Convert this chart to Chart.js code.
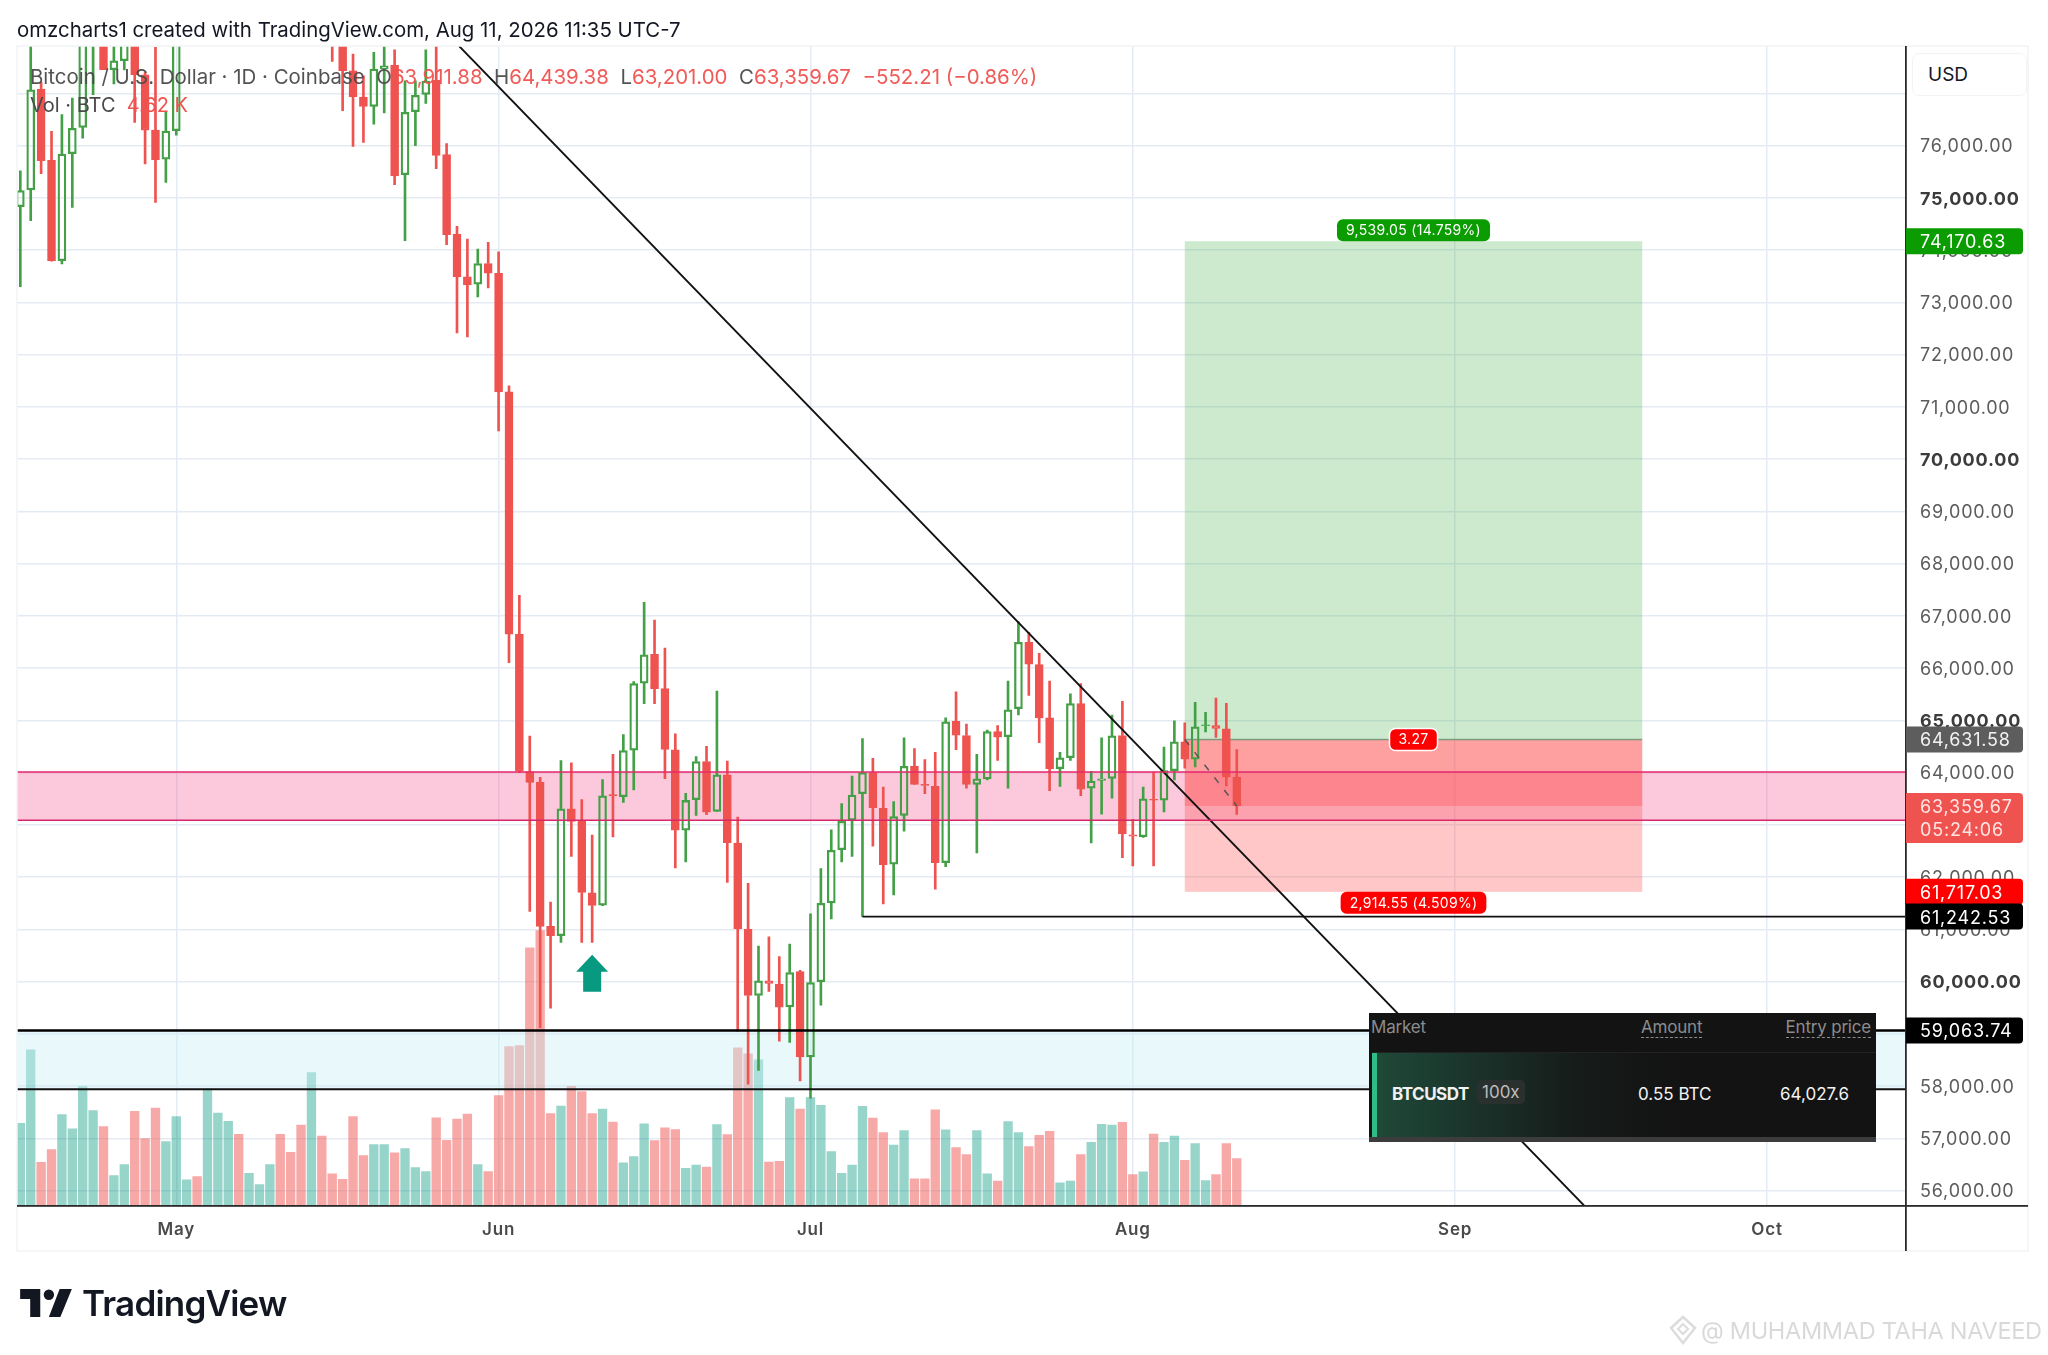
<!DOCTYPE html>
<html><head><meta charset="utf-8">
<script src="https://cdn.jsdelivr.net/npm/chart.js@4"></script>
<style>
html,body{margin:0;padding:0;background:#fff;width:2048px;height:1355px;overflow:hidden;font-family:Inter,"Noto Sans",sans-serif}
#c{position:absolute;left:0;top:0}
.t{position:absolute;white-space:nowrap}
.r{color:#ef5350}
#card{position:absolute;left:1369px;top:1013px;width:507px;height:129px;background:#131313;color:#fff}
#card .row{position:absolute;left:3px;right:0;top:39px;height:84px;border-top:1px solid #222;background:linear-gradient(90deg,#1f4a3a 0,#161c1a 40%,#131313 60%)}
#card .bar{position:absolute;left:3px;top:40px;width:5px;height:84px;background:#2ebd85}
#card .foot{position:absolute;left:0;right:0;bottom:0;height:5px;background:#3c3c3c}
#card .h{position:absolute;top:4px;font-size:17px;font-weight:400;color:#8c8c8c;letter-spacing:-.2px}
#card .u{border-bottom:1.5px dashed #8c8c8c;line-height:20px}
#card .v{position:absolute;top:71px;font-size:17px;color:#f2f2f2}
#card .chip{position:absolute;left:108px;top:67px;padding:2px 5px;font-size:17px;color:#bdbdbd;background:#2a302e;border-radius:5px}
</style></head><body>
<canvas id="c" width="2048" height="1355"></canvas>

<div class="t" style="left:17px;top:17px;font-size:20.4px;color:#131722">omzcharts1 created with TradingView.com, Aug 11, 2026 11:35 UTC-7</div>
<div class="t" style="left:30px;top:64px;font-size:20.45px;color:#4a4a4a;opacity:.95">Bitcoin / U.S. Dollar · 1D · Coinbase&nbsp; O<span class="r">63,911.88</span>&nbsp; H<span class="r">64,439.38</span>&nbsp; L<span class="r">63,201.00</span>&nbsp; C<span class="r">63,359.67</span>&nbsp; <span class="r">−552.21 (−0.86%)</span></div>
<div class="t" style="left:30px;top:93px;font-size:20px;color:#4a4a4a">Vol · BTC&nbsp; <span class="r">4.62 K</span></div>

<div class="t" style="left:1912px;top:53px;width:115px;height:43px;box-sizing:border-box;border:1.5px solid #f1f3f6;border-radius:7px;background:#fff;font-size:19px;line-height:42px;padding-left:15px;color:#131722">USD</div>

<div id="card">
 <div class="h" style="left:2px">Market</div>
 <div class="h u" style="left:272px">Amount</div>
 <div class="h u" style="right:5px">Entry price</div>
 <div class="row"></div><div class="bar"></div>
 <div class="v" style="left:23px;font-weight:700;letter-spacing:-.5px">BTCUSDT</div>
 <div class="chip">100x</div>
 <div class="v" style="left:269px">0.55 BTC</div>
 <div class="v" style="left:411px">64,027.6</div>
 <div class="foot"></div>
</div>

<svg class="t" style="left:20px;top:1289px" width="52" height="28" viewBox="0 0 36 19.5"><path fill="#131722" d="M14 19.5H7V7H0V0h14zM28 19.5h-8L27.5 0h8.5z"/><circle cx="20" cy="4" r="3.6" fill="#131722"/></svg>
<div class="t" style="left:82px;top:1282px;font-size:35px;font-weight:600;letter-spacing:-.8px;color:#131722">TradingView</div>

<svg class="t" style="left:1668px;top:1315px" width="30" height="30" viewBox="0 0 30 30"><path d="M15 2l12 11-12 15L3 13z" fill="none" stroke="#dcdcdc" stroke-width="2.5"/><path d="M15 9l5 5-5 5-5-5z" fill="none" stroke="#dcdcdc" stroke-width="2"/></svg>
<div class="t" style="left:1701px;top:1316px;font-size:23.5px;color:#d9d9d9;letter-spacing:-.3px">@ MUHAMMAD TAHA NAVEED</div>

<script>
// Candles: Apr 16 to Aug 11, one value per day
const opens = [74831,75150,77083,75718,73798,75846,76350,78300,78700,77453,77625,78100,77357,76298,75743,
76286,78100,78600,78300,80000,80700,81200,80400,80800,80900,81500,80700,80200,79300,81200,79800,78400,77434,76930,76751,77466,77542,75444,76649,76981,77256,75827,74308,73487,73346,73744,
73558,71288,66648,64019,63819,61055,60878,63306,63066,61696,61463,63579,63539,64428,65710,66263,65606,64436,62897,63482,64212,63258,63955,62649,61006,59732,60013,59949,59516,60189,
58555,59997,61503,62524,63089,63594,64001,63315,62245,63179,64121,63775,63737,62275,64980,64709,63775,63880,64784,64686,65221,66495,66065,65048,64076,64287,65319,63699,63850,63888,64709,
62810,62772,63488,63473,64038,64588,64257,64897,64897,64837,63911.88];
const highs = [75520,78000,77210,76273,76592,76911,78600,79000,79000,77912,78400,78300,77400,77880,76636,
78500,78900,79000,80200,81000,81500,81400,81000,81100,81700,81800,81000,80400,81500,81300,80000,78500,77753,77338,77785,78000,77836,77242,77242,77833,78100,76038,74455,74212,74019,74148,
73968,71400,67393,64700,63907,61519,64228,64188,63482,62801,63867,64348,64725,65742,67257,66920,66383,64741,63603,64308,64500,65558,64220,63146,61880,60678,60854,60478,60718,60213,
61295,62160,62906,63405,63933,64649,64272,63722,63443,64664,64460,64249,64385,65048,65546,64928,64347,64815,64897,65749,66887,66683,66284,65749,64385,65508,65704,64023,64664,65101,65365,
63104,63722,64008,64490,64988,64950,65342,65154,65425,65327,64439.38];
const lows = [73301,74564,75463,73790,73735,74819,76145,76975,77453,77179,77450,76445,75648,74914,75297,
76200,78000,78200,78200,79600,80300,80100,80200,80600,80700,80400,79900,79000,79200,79600,77612,76668,75986,76062,76413,76624,75252,74181,75999,76808,75558,74103,72417,72340,73103,73276,
70537,66103,64000,61343,59115,59492,60750,62393,60750,60750,61450,62769,63426,63667,65317,65317,63883,62176,62289,63178,63194,63258,61896,59051,58034,58298,59813,58859,58835,58098,
57769,59548,61199,62290,62395,61242.53,62591,61484,61657,62878,63775,63594,61770,62200,64438,63699,62463,63857,64234,63699,65101,65478,64573,63654,63737,64234,63556,62652,63202,63511,62373,
62215,62757,62215,63247,63857,64083,64106,64777,64671,63744,63201];
const closes = [75138,77070,75712,73798,75839,76330,78200,78700,77453,77625,78100,77357,76298,75731,76279,
78100,78600,78300,80000,80700,81200,80400,80800,80900,81500,80700,80200,79300,81200,79800,78400,77434,76936,76751,77466,77529,75418,76636,76962,77237,75814,74295,73487,73333,73744,73558,
71288,66648,64027,63811,61055,60878,63306,63066,61704,61455,63555,63555,64420,65702,66255,65606,64444,62897,63466,64212,63242,63955,62657,61006,59732,60013,59965,59508,60173,58555,
59981,61495,62513,63066,63571,64001,63330,62237,63157,64121,63775,63752,62275,64973,64717,63775,63880,64784,64679,65199,66495,66073,65048,64076,64280,65319,63684,63835,63880,64702,62825,
62780,63496,63473,64038,64588,64257,64875,64913,64845,63911.88,63359.67];
// Volume in thousands of BTC
const volumes = [8.08,15.3,4.25,5.49,8.93,7.52,11.67,9.32,7.75,2.94,4.02,9.25,6.57,9.58,6.28,
8.73,2.52,2.84,11.45,9.09,8.27,7.0,3.17,2.06,4.02,7.0,5.23,7.91,13.05,6.83,3.11,2.58,8.73,4.91,5.98,5.98,5.17,5.59,3.73,3.34,8.60,6.41,8.50,8.99,4.02,3.34,
10.8,15.6,15.7,25.3,27.0,9.03,9.77,11.7,11.2,9.03,9.48,8.20,4.18,4.80,8.03,6.38,7.62,7.45,3.64,3.97,3.77,7.95,6.96,15.5,14.9,14.3,4.26,4.35,10.6,9.48,
10.6,9.85,5.30,3.16,3.97,9.74,8.59,7.16,5.93,7.35,2.62,2.62,9.39,7.43,5.70,5.01,7.35,3.12,2.39,8.24,7.16,5.78,6.89,7.28,2.23,2.39,5.01,6.20,7.97,7.89,8.16,
3.04,3.31,7.01,6.20,6.81,4.43,6.08,2.46,3.04,6.08,4.62];

const monthLabels = ['May','Jun','Jul','Aug','Sep','Oct'];
const monthDays   = [15,46,76,107,138,168];
const priceTicks  = [56000,57000,58000,59000,60000,61000,62000,63000,64000,65000,66000,67000,68000,69000,70000,71000,72000,73000,74000,75000,76000,77000];
const boldTicks   = [60000,65000,70000,75000];
const hiddenTicks = [59000,63000,77000];

const xRange = [-0.32,181.37];
const yRange = [55713,77907];
const volumeMax = 113.9;

const trendLine = [[42.2,77907],[150.4,55713]];
const pinkZone = [63087,64012];
const blueZone = [57938,59063.74];
const swingLow = [81,61242.53];
const positionDays = [112,156];
const entryPrice = 64631.58, targetPrice = 74170.63, stopPrice = 61717.03, lastPrice = 63359.67;
const positionPath = [[112,64631.58],[117,63359.67]];
const arrowAt = [55,60512];

// [price, text, background, text colour]
const priceTags = [
 [targetPrice,'74,170.63','#0a9c00','#fff'],
 [entryPrice,'64,631.58','#5d5d5d','#f2f2f2'],
 [lastPrice,'63,359.67','#ef5350','#fde5e4','05:24:06'],
 [stopPrice,'61,717.03','#ff0000','#fff'],
 [swingLow[1],'61,242.53','#000000','#fff'],
 [blueZone[1],'59,063.74','#000000','#fff']
];
// [price, text, background, vertical anchor]
const posLabels = [
 [targetPrice,'9,539.05 (14.759%)','#0a9c00','above'],
 [entryPrice,'3.27','#ff0000','mid'],
 [stopPrice,'2,914.55 (4.509%)','#ff0000','below']
];

const GREEN='#43a047', RED='#ef5350';
const idx = opens.map((_,i)=>i);
const isUp = i => closes[i] >= opens[i];

function pill(ctx,x,y,w,h,r){ctx.beginPath();ctx.roundRect(x,y,w,h,r);}

const drawings = {
 id:'drawings',
 beforeDraw(chart){ chart.ctx.letterSpacing='0.8px'; },
 beforeDatasetDraw(chart,args){
  if(args.index!==1) return;
  const {ctx,chartArea:a,scales:{x,y}}=chart;
  ctx.save();
  ctx.beginPath();ctx.rect(a.left,a.top,a.width,a.height);ctx.clip();
  const band=(x0,x1,p0,p1,c)=>{ctx.fillStyle=c;ctx.fillRect(x0,y.getPixelForValue(p1),x1-x0,y.getPixelForValue(p0)-y.getPixelForValue(p1));};
  band(a.left,a.right,blueZone[0],blueZone[1],'rgba(200,240,245,.4)');
  band(a.left,a.right,pinkZone[0],pinkZone[1],'rgba(240,70,130,.29)');
  const l=x.getPixelForValue(positionDays[0]), r=x.getPixelForValue(positionDays[1]);
  band(l,r,entryPrice,targetPrice,'rgba(76,175,80,.28)');
  band(l,r,stopPrice,entryPrice,'rgba(255,82,82,.32)');
  band(l,r,lastPrice,entryPrice,'rgba(255,60,60,.28)');
  ctx.fillStyle='#7d9a7e';
  ctx.fillRect(l,y.getPixelForValue(entryPrice)-0.75,r-l,1.5);
  ctx.restore();
 },
 afterDatasetsDraw(chart){
  const {ctx,chartArea:a,scales:{x,y}}=chart;
  ctx.save();
  // up arrow
  const ax=x.getPixelForValue(arrowAt[0]), ay=y.getPixelForValue(arrowAt[1]);
  ctx.fillStyle='#089981';
  ctx.beginPath();
  ctx.moveTo(ax,ay);ctx.lineTo(ax+16,ay+17);ctx.lineTo(ax+9,ay+17);ctx.lineTo(ax+9,ay+37);ctx.lineTo(ax-9,ay+37);ctx.lineTo(ax-9,ay+17);ctx.lineTo(ax-16,ay+17);ctx.closePath();ctx.fill();
  // position labels
  const cx=(x.getPixelForValue(positionDays[0])+x.getPixelForValue(positionDays[1]))/2;
  ctx.letterSpacing='0.3px';
  ctx.font='14px Inter, sans-serif';ctx.textBaseline='middle';ctx.textAlign='center';
  posLabels.forEach(([p,t,bg,an])=>{
   const py=y.getPixelForValue(p), w=ctx.measureText(t).width+18, h=22;
   const top= an==='above'?py-h: an==='below'?py: py-h/2;
   ctx.fillStyle=bg;pill(ctx,cx-w/2,top,w,h,6);ctx.fill();
   if(an==='mid'){ctx.strokeStyle='#fff';ctx.lineWidth=1.5;ctx.stroke();}
   ctx.fillStyle='#fff';ctx.fillText(t,cx,top+h/2+.5);
  });
  ctx.restore();
 },
 afterDraw(chart){
  const {ctx,chartArea:a,scales:{y}}=chart;
  ctx.save();
  // panel frame and axis lines
  ctx.strokeStyle='#f1f3f6';ctx.lineWidth=1.5;ctx.strokeRect(17,46,2011,1205);
  ctx.fillStyle='#2b2b2b';
  ctx.fillRect(a.right-1,46,1.8,1205);
  ctx.fillRect(17,a.bottom-0.5,2011,1.8);
  // price tags
  ctx.letterSpacing='0.8px';
  ctx.textBaseline='middle';ctx.textAlign='left';ctx.font='18px Inter, sans-serif';
  priceTags.forEach(([p,t,bg,fg,sub])=>{
   const py=y.getPixelForValue(p), h=sub?50:26, top=py-13;
   ctx.fillStyle=bg;pill(ctx,a.right,top,117,h,[0,4,4,0]);ctx.fill();
   ctx.fillStyle=fg;ctx.fillText(t,1920,py+1.5);
   if(sub) ctx.fillText(sub,1920,py+25);
  });
  ctx.restore();
 }
};

const line=(data,color,width,dash)=>({type:'line',data:data.map(([x,y])=>({x,y})),borderColor:color,borderWidth:width,borderDash:dash||[],pointRadius:0,tension:0,fill:false,order:1});
const level=(start,p,color,width)=>line([[start,p],[xRange[1],p]],color,width);

new Chart(document.getElementById('c'),{
 type:'bar',
 data:{datasets:[
  {label:'Volume',data:idx.map(i=>({x:i,y:volumes[i]})),yAxisID:'vol',barThickness:8.7,
   backgroundColor:idx.map(i=>isUp(i)?'rgba(8,153,129,.42)':'rgba(239,83,80,.5)'),order:9},
  {label:'Upper wick',data:idx.map(i=>({x:i,y:[Math.max(opens[i],closes[i]),highs[i]]})),barThickness:2,
   backgroundColor:idx.map(i=>isUp(i)?GREEN:RED),order:4},
  {label:'Lower wick',data:idx.map(i=>({x:i,y:[lows[i],Math.min(opens[i],closes[i])]})),barThickness:2,
   backgroundColor:idx.map(i=>isUp(i)?GREEN:RED),order:3},
  {label:'Body',data:idx.map(i=>({x:i,y:[opens[i],closes[i]]})),barThickness:8,borderSkipped:false,
   backgroundColor:idx.map(i=>isUp(i)?'rgba(0,0,0,0)':RED),
   borderColor:idx.map(i=>isUp(i)?GREEN:RED),borderWidth:1.6,order:2},
  level(xRange[0],pinkZone[1],'#e6286e',1.6),
  level(xRange[0],pinkZone[0],'#d6286a',1.6),
  level(xRange[0],blueZone[1],'#000',2.4),
  level(xRange[0],blueZone[0],'#111',1.8),
  level(swingLow[0],swingLow[1],'#111',1.8),
  line(trendLine,'#111',1.8),
  line(positionPath,'#555',1.5,[7,9])
 ]},
 options:{
  responsive:false,animation:false,devicePixelRatio:1,
  layout:{padding:{left:17,top:46,right:20,bottom:104}},
  datasets:{bar:{grouped:false}},
  plugins:{legend:{display:false},tooltip:{enabled:false}},
  scales:{
   x:{type:'linear',offset:false,min:xRange[0],max:xRange[1],
    afterFit(s){s.height=45.5;},
    afterBuildTicks(s){s.ticks=monthDays.map(v=>({value:v}));},
    grid:{offset:false,color:'#e4ebf3',lineWidth:1.5,drawTicks:false,drawOnChartArea:true},
    border:{display:false},
    ticks:{autoSkip:false,maxRotation:0,padding:14,color:'#4a4a4a',font:{family:'Inter',size:17,weight:'600'},
     callback(v){const k=monthDays.indexOf(v);return k<0?'':monthLabels[k];}}
   },
   y:{type:'linear',position:'right',min:yRange[0],max:yRange[1],
    afterFit(s){s.width=122;},
    afterBuildTicks(s){s.ticks=priceTicks.map(v=>({value:v}));},
    grid:{color:'#e4ebf3',lineWidth:1.5,drawTicks:false},
    border:{display:false},
    ticks:{padding:14,mirror:false,labelOffset:1.3,
     color:c=>(c.tick&&boldTicks.includes(c.tick.value))?'#3c3c3c':'#5c5c5c',
     font:c=>({family:'Inter',size:18,weight:(c.tick&&boldTicks.includes(c.tick.value))?'700':'400'}),
     callback(v){return hiddenTicks.includes(v)?'':v.toLocaleString('en-US',{minimumFractionDigits:2,maximumFractionDigits:2});}}
   },
   vol:{type:'linear',display:false,min:0,max:volumeMax,grid:{display:false}}
  }
 },
 plugins:[drawings]
});
</script>
</body></html>
